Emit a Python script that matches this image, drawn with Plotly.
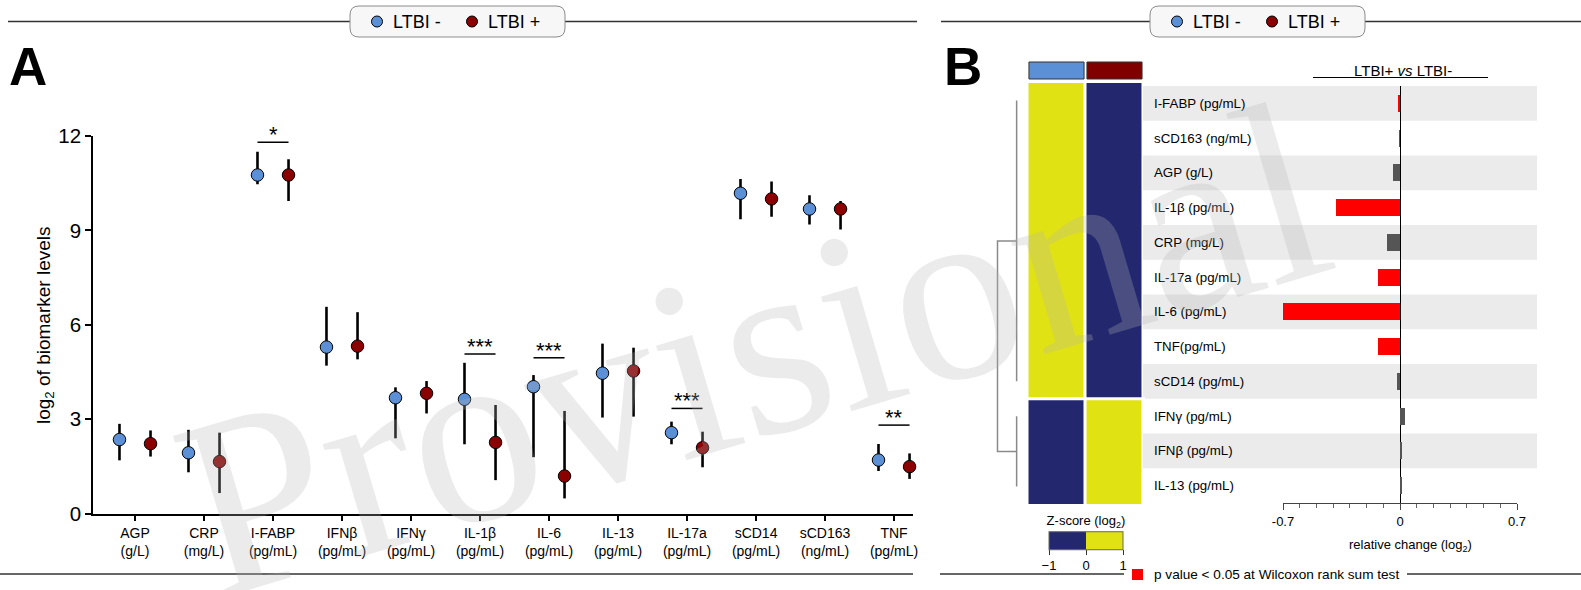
import plotly.graph_objects as go

W, H = 1581, 590
def px(x): return x / W
def py(y): return 1 - y / H

FONT = "Liberation Sans, Arial, Helvetica, sans-serif"
BLUE = "#5b8fd6"
DARKRED = "#8b0000"
NAVY = "#23286e"
YELLOW = "#e1e214"
BRIGHTRED = "#ff0000"
GRAYBAR = "#555555"

# ---------------- Panel A data ----------------
biomarkers = ["AGP<br>(g/L)", "CRP<br>(mg/L)", "I-FABP<br>(pg/mL)", "IFNβ<br>(pg/mL)",
              "IFNγ<br>(pg/mL)", "IL-1β<br>(pg/mL)", "IL-6<br>(pg/mL)", "IL-13<br>(pg/mL)",
              "IL-17a<br>(pg/mL)", "sCD14<br>(pg/mL)", "sCD163<br>(ng/mL)", "TNF<br>(pg/mL)"]
median_neg = [2.35, 1.93, 10.76, 5.29, 3.68, 3.63, 4.03, 4.46, 2.57, 10.18, 9.68, 1.70]
low_neg    = [1.69, 1.31, 10.47, 4.70, 2.39, 2.20, 1.79, 3.05, 2.20, 9.35, 9.19, 1.35]
high_neg   = [2.85, 2.66, 11.50, 6.57, 4.01, 4.79, 4.40, 5.40, 2.92, 10.63, 10.12, 2.21]
median_pos = [2.22, 1.65, 10.76, 5.32, 3.82, 2.26, 1.19, 4.53, 2.09, 10.00, 9.68, 1.49]
low_pos    = [1.81, 0.65, 9.93, 4.90, 3.18, 1.06, 0.48, 3.08, 1.47, 9.43, 9.03, 1.10]
high_pos   = [2.64, 2.57, 11.26, 6.40, 4.21, 3.45, 3.26, 5.27, 2.60, 10.55, 9.93, 1.91]
y_ticks_A  = [0, 3, 6, 9, 12]

sig_index  = [2, 5, 6, 8, 11]
sig_labels = ["*", "***", "***", "***", "**"]
sig_bar_y  = [11.80, 5.07, 4.95, 3.34, 2.81]

# ---------------- Panel B data ----------------
rows_B = ["I-FABP (pg/mL)", "sCD163 (ng/mL)", "AGP (g/L)", "IL-1β (pg/mL)", "CRP (mg/L)",
          "IL-17a (pg/mL)", "IL-6 (pg/mL)", "TNF(pg/mL)", "sCD14 (pg/mL)", "IFNγ (pg/mL)",
          "IFNβ (pg/mL)", "IL-13 (pg/mL)"]
z_ltbi_neg = [0.71, 0.71, 0.71, 0.71, 0.71, 0.71, 0.71, 0.71, 0.71, -0.71, -0.71, -0.71]
z_ltbi_pos = [-0.71, -0.71, -0.71, -0.71, -0.71, -0.71, -0.71, -0.71, -0.71, 0.71, 0.71, 0.71]
cluster_id = [1, 1, 1, 1, 1, 1, 1, 1, 1, 2, 2, 2]
dendro_leaf_height = 0.15
dendro_root_height = 1.0
rel_change = [-0.010, -0.005, -0.044, -0.380, -0.078, -0.130, -0.705, -0.130, -0.018, 0.030, 0.008, 0.012]
significant = [True, False, False, True, False, True, True, True, False, False, False, False]
x_ticks_B = [-0.7, 0, 0.7]
x_ticktext_B = ["-0.7", "0", "0.7"]

n = len(biomarkers)
off = 0.225
fig = go.Figure()

# ---- Panel A points with IQR whiskers ----
for med, lo, hi, color, sgn in [(median_neg, low_neg, high_neg, BLUE, -1),
                                (median_pos, low_pos, high_pos, DARKRED, 1)]:
    fig.add_trace(go.Scatter(
        x=[i + sgn * off for i in range(n)], y=med, mode="markers",
        marker=dict(size=12.5, color=color, line=dict(color="black", width=1)),
        error_y=dict(type="data", symmetric=False,
                     array=[h - m for h, m in zip(hi, med)],
                     arrayminus=[m - l for m, l in zip(med, lo)],
                     color="black", thickness=2.6, width=0),
        showlegend=False, cliponaxis=False, xaxis="x", yaxis="y"))

# significance bars
sx, sy = [], []
for i, yb in zip(sig_index, sig_bar_y):
    sx += [i - off, i + off, None]
    sy += [yb, yb, None]
fig.add_trace(go.Scatter(x=sx, y=sy, mode="lines", line=dict(color="black", width=1.5),
                         showlegend=False, cliponaxis=False, xaxis="x", yaxis="y"))

# ---- Panel B heatmap ----
fig.add_trace(go.Heatmap(
    z=[[a, b] for a, b in zip(z_ltbi_neg, z_ltbi_pos)], x=[0, 1], y=list(range(len(rows_B))),
    zmin=-1, zmax=1, xgap=3,
    colorscale=[[0, NAVY], [0.5, NAVY], [0.5, YELLOW], [1, YELLOW]],
    colorbar=dict(orientation="h", x=px(1086), xanchor="center", y=py(515), yanchor="top",
                  len=74, lenmode="pixels", thickness=18, thicknessmode="pixels",
                  xpad=0, ypad=0, outlinewidth=1, outlinecolor="#666",
                  tickvals=[-1, 0, 1], ticks="outside", ticklen=5, tickcolor="#333",
                  tickfont=dict(size=13, color="black", family=FONT),
                  title=dict(text="Z-score (log<sub>2</sub>)", side="top",
                             font=dict(size=13, color="black", family=FONT))),
    hoverinfo="skip", xaxis="x2", yaxis="y2"))

# ---- dendrogram (computed from cluster membership) ----
dx, dy = [], []
mids = []
for c in sorted(set(cluster_id)):
    idx = [i for i, k in enumerate(cluster_id) if k == c]
    dx += [dendro_leaf_height, dendro_leaf_height, None]
    dy += [min(idx), max(idx), None]
    mids.append((min(idx) + max(idx)) / 2)
dx += [dendro_leaf_height, dendro_root_height, dendro_root_height, dendro_leaf_height]
dy += [mids[0], mids[0], mids[1], mids[1]]
fig.add_trace(go.Scatter(x=dx, y=dy, mode="lines", line=dict(color="#8a8a8a", width=1.5),
                         showlegend=False, hoverinfo="skip", xaxis="x4", yaxis="y2"))

# ---- Panel B bars ----
fig.add_trace(go.Bar(
    x=rel_change, y=list(range(len(rows_B))), orientation="h", width=0.49,
    marker=dict(color=[BRIGHTRED if s else GRAYBAR for s in significant], line=dict(width=0)),
    showlegend=False, xaxis="x3", yaxis="y3"))

shapes = []
annotations = []

# row stripes
for i in range(len(rows_B)):
    if i % 2 == 0:
        shapes.append(dict(type="rect", xref="paper", yref="y3", x0=px(1143), x1=px(1537),
                           y0=i - 0.5, y1=i + 0.5, fillcolor="#ebebeb", line=dict(width=0),
                           layer="below"))
    annotations.append(dict(text=rows_B[i], xref="paper", yref="y3", x=px(1152), y=i,
                            xanchor="left", yanchor="middle", showarrow=False,
                            font=dict(size=13.3, color="black", family=FONT)))

# heatmap split between clusters
split = max(i for i, k in enumerate(cluster_id) if k == cluster_id[0]) + 0.5
shapes.append(dict(type="line", xref="paper", yref="y2", x0=px(1026), x1=px(1145),
                   y0=split, y1=split, line=dict(color="white", width=3)))

# column header blocks
for j, col in enumerate([BLUE, "#800000"]):
    shapes.append(dict(type="rect", xref="x2", yref="paper", x0=j - 0.475, x1=j + 0.475,
                       y0=py(79), y1=py(62), fillcolor=col, line=dict(color="#333", width=1)))

# header LTBI+ vs LTBI-
annotations.append(dict(text="LTBI+ <i>vs</i> LTBI-", xref="paper", yref="paper",
                        x=px(1403), y=py(70), xanchor="center", yanchor="middle",
                        showarrow=False, font=dict(size=15, color="black", family=FONT)))
shapes.append(dict(type="line", xref="paper", yref="paper", x0=px(1313), x1=px(1488),
                   y0=py(77.5), y1=py(77.5), line=dict(color="black", width=1)))
annotations.append(dict(text="relative change (log<sub>2</sub>)", xref="paper", yref="paper",
                        x=px(1410), y=py(545), xanchor="center", yanchor="middle",
                        showarrow=False, font=dict(size=13, color="black", family=FONT)))

# significance stars
for i, yb, lab in zip(sig_index, sig_bar_y, sig_labels):
    annotations.append(dict(text=lab, xref="x", yref="y", x=i, y=yb, xanchor="center",
                            yanchor="bottom", yshift=-7, showarrow=False,
                            font=dict(size=22, color="black", family=FONT)))

# y title panel A
annotations.append(dict(text="log<sub>2</sub> of biomarker levels", xref="paper", yref="paper",
                        x=px(45), y=py(325), textangle=-90, xanchor="center", yanchor="middle",
                        showarrow=False, font=dict(size=19, color="black", family=FONT)))

# panel letters
for letter, xl in [("A", 7), ("B", 942)]:
    annotations.append(dict(text="<b>%s</b>" % letter, xref="paper", yref="paper",
                            x=px(xl), y=py(66), xanchor="left", yanchor="middle",
                            showarrow=False, font=dict(size=53, color="black", family=FONT)))

# top frame lines + legends
def rounded_rect(x0, y0, x1, y1, r):
    pts = ("M {a},{b} L {c},{b} Q {x1},{b} {x1},{d} L {x1},{e} Q {x1},{f} {c},{f} "
           "L {a},{f} Q {x0},{f} {x0},{e} L {x0},{d} Q {x0},{b} {a},{b} Z")
    return pts.format(a=px(x0 + r), b=py(y0), c=px(x1 - r), d=py(y0 + r), e=py(y1 - r),
                      f=py(y1), x0=px(x0), x1=px(x1))

LINE_Y = 21.5
for (l0, l1, l2, l3), bx in [((8, 350, 565, 917), 350), ((941, 1150, 1365, 1581), 1150)]:
    shapes.append(dict(type="line", xref="paper", yref="paper", x0=px(l0), x1=px(l1),
                       y0=py(LINE_Y), y1=py(LINE_Y), line=dict(color="#333", width=1.3)))
    shapes.append(dict(type="line", xref="paper", yref="paper", x0=px(l2), x1=px(l3),
                       y0=py(LINE_Y), y1=py(LINE_Y), line=dict(color="#333", width=1.3)))
    shapes.append(dict(type="path", xref="paper", yref="paper",
                       path=rounded_rect(bx, 6, bx + 215, 37, 9),
                       fillcolor="#f7f7f7", line=dict(color="#8c8c8c", width=1)))
    for cx, col, lab in [(bx + 27, BLUE, "LTBI -"), (bx + 122, DARKRED, "LTBI +")]:
        shapes.append(dict(type="circle", xref="paper", yref="paper",
                           x0=px(cx - 5.5), x1=px(cx + 5.5), y0=py(LINE_Y + 5.5), y1=py(LINE_Y - 5.5),
                           fillcolor=col, line=dict(color="black", width=1)))
        annotations.append(dict(text=lab, xref="paper", yref="paper", x=px(cx + 14), y=py(LINE_Y),
                                xanchor="left", yanchor="middle", showarrow=False,
                                font=dict(size=18, color="black", family=FONT)))

# bottom frame lines
BOT_Y = 574
for a, b in [(0, 913), (940, 1124), (1407, 1581)]:
    shapes.append(dict(type="line", xref="paper", yref="paper", x0=px(a), x1=px(b),
                       y0=py(BOT_Y), y1=py(BOT_Y), line=dict(color="#666", width=2)))
shapes.append(dict(type="rect", xref="paper", yref="paper", x0=px(1132), x1=px(1143),
                   y0=py(580), y1=py(569), fillcolor=BRIGHTRED, line=dict(width=0)))
annotations.append(dict(text="p value < 0.05 at Wilcoxon rank sum test", xref="paper", yref="paper",
                        x=px(1152), y=py(BOT_Y), xanchor="left", yanchor="middle", showarrow=False,
                        font=dict(size=13.6, color="black", family=FONT)))

# watermark
annotations.append(dict(text="Provisional", xref="paper", yref="paper", x=px(752), y=py(350),
                        xanchor="center", yanchor="middle", textangle=-16.5, showarrow=False,
                        font=dict(size=258, color="rgba(180,180,180,0.27)",
                                  family="Liberation Serif, Times New Roman, serif")))

fig.update_layout(
    width=W, height=H, margin=dict(l=0, r=0, t=0, b=0, autoexpand=False),
    paper_bgcolor="white", plot_bgcolor="rgba(0,0,0,0)",
    font=dict(family=FONT, color="black"),
    showlegend=False, shapes=shapes, annotations=annotations, bargap=0,
    xaxis=dict(domain=[px(93), px(913)], range=[-0.6087, 11.275], anchor="y",
               tickvals=list(range(n)), ticktext=biomarkers, ticks="outside", ticklen=6,
               tickwidth=1.5, tickcolor="black", showline=True, linecolor="black", linewidth=1.5,
               showgrid=False, zeroline=False, tickfont=dict(size=14, color="black", family=FONT)),
    yaxis=dict(domain=[py(513.5), py(136)], range=[0, 12], anchor="x",
               tickvals=y_ticks_A, ticks="outside", ticklen=6, tickwidth=1.5, tickcolor="black",
               showline=True, linecolor="black", linewidth=1.5, showgrid=False, zeroline=False,
               tickfont=dict(size=20.5, color="black", family=FONT)),
    xaxis2=dict(domain=[px(1027.5), px(1143.5)], range=[-0.5, 1.5], visible=False, anchor="y2"),
    yaxis2=dict(domain=[py(504), py(83)], range=[len(rows_B) - 0.5, -0.5], visible=False, anchor="x2"),
    xaxis3=dict(domain=[px(1283), px(1517)], range=[-0.7, 0.7], anchor="y3",
                tickvals=x_ticks_B, ticktext=x_ticktext_B, ticks="outside", ticklen=6,
                tickcolor="#444", showline=True, linecolor="#444", linewidth=1, showgrid=False,
                zeroline=True, zerolinecolor="black", zerolinewidth=1,
                minor=dict(dtick=0.1, ticks="outside", ticklen=4, tickcolor="#666", showgrid=False),
                tickfont=dict(size=13, color="black", family=FONT)),
    yaxis3=dict(domain=[py(503), py(86)], range=[len(rows_B) - 0.5, -0.5], visible=False, anchor="x3"),
    xaxis4=dict(domain=[px(993), px(1020)], range=[1.2, 0], visible=False, anchor="y2"),
)

fig.write_html("out.html", config={"displayModeBar": False},
               post_script="document.body.style.margin='0';document.body.style.overflow='hidden';")
